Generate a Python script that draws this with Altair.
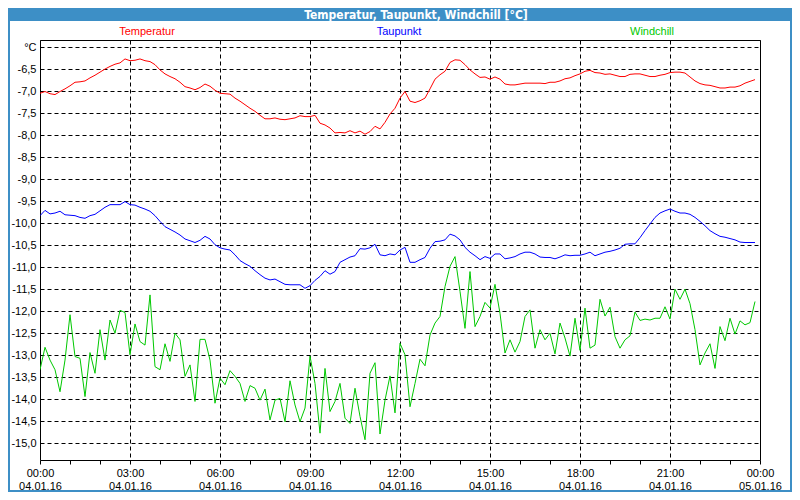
import json
import altair as alt
import pandas as pd

title_text = "Temperatur, Taupunkt, Windchill [°C]"
series_names = ["Temperatur", "Taupunkt", "Windchill"]
series_colors = ["#ff0000", "#0000ff", "#00c800"]
hour_labels = ["00:00", "03:00", "06:00", "09:00", "12:00", "15:00", "18:00", "21:00", "00:00"]
date_labels = ["04.01.16", "04.01.16", "04.01.16", "04.01.16", "04.01.16",
               "04.01.16", "04.01.16", "04.01.16", "05.01.16"]
x_ticks = [0, 1, 2, 3, 4, 5, 6, 7, 8, 9, 10, 11, 12, 13, 14, 15, 16, 17, 18, 19, 20, 21, 22, 23, 24]
y_ticks = [-15.0, -14.5, -14.0, -13.5, -13.0, -12.5, -12.0, -11.5, -11.0, -10.5,
           -10.0, -9.5, -9.0, -8.5, -8.0, -7.5, -7.0, -6.5, -6.0]
y_unit_label = "°C"
step_minutes = 10

temperatur = [
    -7.05, -7.01, -7.06, -7.08, -7.01, -6.95, -6.88, -6.80, -6.79, -6.77,
    -6.70, -6.64, -6.57, -6.50, -6.44, -6.39, -6.36, -6.27, -6.31, -6.30,
    -6.27, -6.31, -6.33, -6.40, -6.52, -6.61, -6.67, -6.72, -6.80, -6.90,
    -6.93, -6.97, -6.92, -6.84, -6.89, -6.98, -7.05, -7.06, -7.07, -7.16,
    -7.23, -7.31, -7.39, -7.46, -7.55, -7.63, -7.63, -7.61, -7.64, -7.65,
    -7.63, -7.61, -7.56, -7.58, -7.58, -7.55, -7.73, -7.77, -7.84, -7.95,
    -7.94, -7.95, -7.90, -7.95, -7.91, -7.98, -7.92, -7.80, -7.86, -7.71,
    -7.52, -7.39, -7.16, -7.01, -7.23, -7.26, -7.22, -7.16, -6.95, -6.73,
    -6.63, -6.55, -6.35, -6.29, -6.30, -6.40, -6.52, -6.61, -6.69, -6.68,
    -6.73, -6.68, -6.73, -6.84, -6.86, -6.86, -6.84, -6.82, -6.82, -6.82,
    -6.82, -6.83, -6.80, -6.80, -6.77, -6.72, -6.70, -6.65, -6.61, -6.55,
    -6.53, -6.58, -6.59, -6.62, -6.61, -6.64, -6.67, -6.67, -6.62, -6.61,
    -6.61, -6.64, -6.67, -6.67, -6.64, -6.62, -6.58, -6.57, -6.57, -6.59,
    -6.68, -6.77, -6.83, -6.86, -6.87, -6.90, -6.93, -6.93, -6.91, -6.91,
    -6.88, -6.82, -6.78, -6.74,
]

taupunkt = [
    -9.83, -9.71, -9.79, -9.77, -9.73, -9.81, -9.82, -9.83, -9.87, -9.89,
    -9.83, -9.80, -9.72, -9.64, -9.58, -9.58, -9.58, -9.51, -9.58, -9.59,
    -9.64, -9.68, -9.73, -9.83, -9.96, -10.08, -10.14, -10.20, -10.27, -10.36,
    -10.40, -10.44, -10.39, -10.30, -10.36, -10.49, -10.56, -10.59, -10.61, -10.72,
    -10.85, -10.92, -10.98, -11.08, -11.17, -11.25, -11.29, -11.27, -11.33, -11.39,
    -11.40, -11.40, -11.40, -11.48, -11.42, -11.30, -11.21, -11.08, -11.16, -11.10,
    -10.89, -10.83, -10.77, -10.74, -10.58, -10.59, -10.56, -10.48, -10.72, -10.74,
    -10.70, -10.72, -10.61, -10.55, -10.89, -10.89, -10.83, -10.78, -10.57, -10.42,
    -10.41, -10.38, -10.25, -10.29, -10.38, -10.55, -10.66, -10.74, -10.83, -10.76,
    -10.80, -10.70, -10.70, -10.81, -10.79, -10.76, -10.70, -10.66, -10.66, -10.70,
    -10.77, -10.78, -10.78, -10.81, -10.77, -10.72, -10.74, -10.73, -10.73, -10.70,
    -10.66, -10.74, -10.70, -10.66, -10.64, -10.61, -10.57, -10.48, -10.47, -10.47,
    -10.33, -10.17, -10.02, -9.87, -9.77, -9.72, -9.68, -9.73, -9.77, -9.77,
    -9.80, -9.87, -9.96, -10.06, -10.17, -10.24, -10.30, -10.32, -10.35, -10.38,
    -10.43, -10.44, -10.44, -10.44,
]

windchill = [
    -13.33, -12.82, -13.11, -13.33, -13.83, -13.11, -12.08, -13.03, -13.07, -13.94,
    -12.94, -13.41, -12.42, -13.11, -12.20, -12.50, -11.98, -12.03, -12.99, -12.29,
    -12.69, -12.77, -11.63, -13.26, -13.33, -12.74, -13.14, -12.50, -12.65, -13.48,
    -13.22, -14.05, -12.64, -12.64, -13.11, -14.09, -13.52, -13.67, -13.35, -13.48,
    -13.64, -14.05, -13.69, -13.75, -14.02, -13.77, -14.47, -14.02, -13.98, -14.51,
    -13.58, -14.13, -14.51, -14.20, -13.02, -13.64, -14.77, -13.30, -14.28, -14.05,
    -13.64, -14.43, -14.55, -13.75, -14.39, -14.92, -13.41, -13.17, -14.79, -14.02,
    -13.47, -14.31, -12.73, -12.99, -14.17, -13.64, -13.09, -13.24, -12.54, -12.27,
    -12.12, -11.44, -10.98, -10.76, -11.55, -12.39, -11.10, -12.35, -12.12, -11.80,
    -11.93, -11.39, -12.05, -12.95, -12.65, -12.93, -12.69, -12.12, -11.97, -12.84,
    -12.42, -12.65, -12.50, -12.97, -12.27, -12.61, -13.02, -12.16, -12.89, -11.93,
    -12.84, -12.77, -11.73, -12.11, -11.91, -12.58, -12.84, -12.65, -12.56, -12.02,
    -12.21, -12.18, -12.20, -12.16, -12.16, -11.90, -12.18, -11.50, -11.73, -11.50,
    -11.83, -12.42, -13.22, -12.95, -12.74, -13.30, -12.35, -12.67, -12.16, -12.52,
    -12.22, -12.31, -12.26, -11.78,
]

# ---- build table ----
rows = []
for name, vals in zip(series_names, [temperatur, taupunkt, windchill]):
    for i, v in enumerate(vals):
        rows.append({"h": i * step_minutes / 60.0, "v": v, "s": name})
df = pd.DataFrame(rows)

FONT = "Liberation Sans"
TITLE_FONT = "'DejaVu Sans Condensed', 'DejaVu Sans', sans-serif"
W, H = 720, 420
PAD = 32
BLUE = "#3d8fc6"

x_label_expr = (
    "datum.value % 3 === 0 ? [" + json.dumps(hour_labels) + "[datum.value / 3], "
    + json.dumps(date_labels) + "[datum.value / 3]] : ''"
)
y_label_expr = (
    "datum.value === " + str(y_ticks[-1]) + " ? '" + y_unit_label + "' : "
    "(datum.value < 0 ? '-' : '') + replace(format(abs(datum.value), '.1f'), '.', ',')"
)

x_scale = alt.Scale(domain=[0, 24], nice=False, zero=False)
y_scale = alt.Scale(domain=[-15.38, -5.84], nice=False, zero=False)

x_axis = alt.Axis(
    values=x_ticks, title=None, labelExpr=x_label_expr, domain=False,
    ticks=True, tickSize=4, tickColor="black", tickWidth=1,
    labelPadding=3, labelFontSize=11, labelFont=FONT, labelColor="black",
    labelLineHeight=13, labelBaseline="top", labelAngle=0, labelFlush=False,
    labelOverlap=False,
    grid=True, gridColor="black", gridDash=[4, 3], gridWidth=1,
    gridOpacity={"condition": {"test": "datum.value % 3 === 0", "value": 1}, "value": 0},
)
y_axis = alt.Axis(
    values=y_ticks, title=None, labelExpr=y_label_expr, domain=False,
    ticks=False, tickSize=0, labelPadding=4, labelFontSize=11, labelFont=FONT,
    labelColor="black", labelOverlap=False, labelFlush=False,
    grid=True, gridColor="black", gridDash=[4, 3], gridWidth=1,
)

lines = alt.Chart(df).mark_line(strokeWidth=1, clip=True).encode(
    x=alt.X("h:Q", scale=x_scale, axis=x_axis),
    y=alt.Y("v:Q", scale=y_scale, axis=y_axis),
    color=alt.Color("s:N", scale=alt.Scale(domain=series_names, range=series_colors), legend=None),
    detail="s:N",
)

title_df = pd.DataFrame({"t": [title_text]})
title_bar = alt.Chart(title_df).mark_rect(color=BLUE).encode(
    x=alt.value(-PAD), x2=alt.value(W + PAD), y=alt.value(-PAD), y2=alt.value(-19)
)
title_txt = alt.Chart(title_df).mark_text(
    color="white", fontWeight="bold", fontSize=12, font=TITLE_FONT,
    align="center", baseline="middle",
).encode(x=alt.value(376), y=alt.value(-25.5), text="t:N")

border = alt.Chart(title_df).mark_rect(fillOpacity=0, stroke=BLUE, strokeWidth=2).encode(
    x=alt.value(-PAD + 1), x2=alt.value(W + PAD - 1), y=alt.value(-PAD + 1), y2=alt.value(H + PAD - 1)
)

legend_x = [107, 359, 612]
legend_layers = []
for name, col, lx in zip(series_names, series_colors, legend_x):
    ldf = pd.DataFrame({"t": [name]})
    legend_layers.append(
        alt.Chart(ldf).mark_text(color=col, fontSize=11, font=FONT, align="center", baseline="middle")
        .encode(x=alt.value(lx), y=alt.value(-8), text="t:N")
    )

chart = alt.layer(title_bar, border, lines, title_txt, *legend_layers).properties(
    width=W, height=H,
    padding={"left": PAD, "top": PAD, "right": PAD, "bottom": PAD},
    autosize=alt.AutoSizeParams(type="none"),
    background="white",
).configure_view(stroke="black", strokeWidth=1)

chart.save("out.html", embed_options={"renderer": "svg", "actions": False})
